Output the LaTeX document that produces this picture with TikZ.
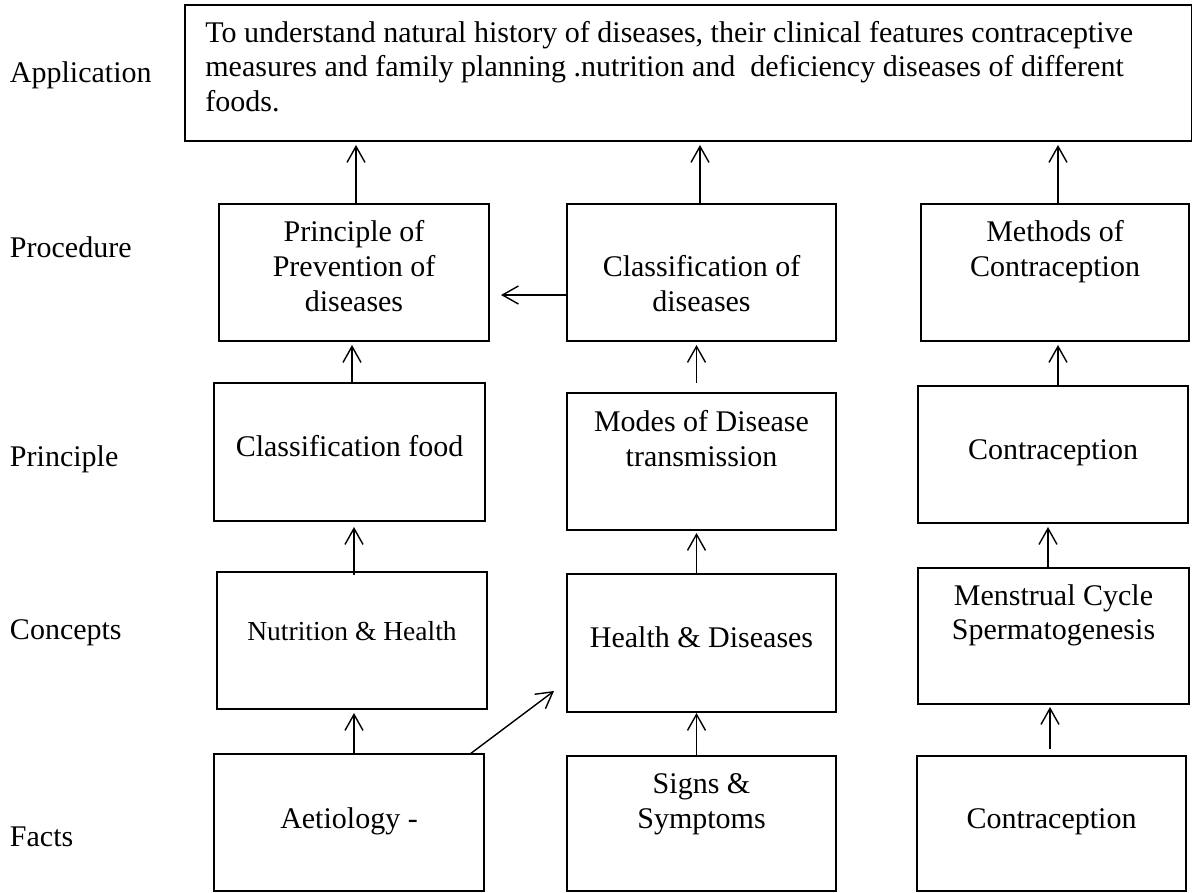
\documentclass[tikz,border=0pt]{standalone}
\usepackage{fontspec}
\setmainfont{Liberation Serif}
\usetikzlibrary{arrows.meta,fit}
\begin{document}
\begin{tikzpicture}[x=0.5pt,y=-0.5pt,
  box/.style={draw, line width=0.9pt, inner sep=0pt, outer sep=0pt},
  txt/.style={inner sep=0pt, anchor=base, font=\fontsize{15}{17.25}\selectfont},
  lbl/.style={txt, anchor=base west},
  smalltxt/.style={txt, font=\fontsize{13.75}{15.8}\selectfont},
  arr/.style={line width=0.7pt, -{Straight Barb[length=8pt,width=9pt]}}]
\useasboundingbox (0,0) rectangle (1193,893);

% level labels
\node[lbl] (l-app)  at (9.6,83)  {Application};
\node[lbl] (l-proc) at (9.6,257) {Procedure};
\node[lbl] (l-prin) at (9.6,466) {Principle};
\node[lbl] (l-conc) at (9.6,639) {Concepts};
\node[lbl] (l-fact) at (9.6,846) {Facts};

% application box
\node[box, fit={(185,5) (1191.5,141)}] (app) {};
\node[lbl] (app-a) at (205,42.7) {To understand natural history of diseases, their clinical features contraceptive};
\node[lbl] (app-b) at (205,77) {measures and family planning .nutrition and~ deficiency diseases of different};
\node[lbl] (app-c) at (205,112) {foods.};

% column 1
\node[box, fit={(219,204) (489,341)}] (proc1) {};
\node[box, fit={(214,383) (485,521)}] (prin1) {};
\node[box, fit={(217,572) (487,709)}] (conc1) {};
\node[box, fit={(214,754) (484,891)}] (fact1) {};
\node[txt] (proc1-a) at (354,242)   {Principle of};
\node[txt] (proc1-b) at (354,276.5) {Prevention of};
\node[txt] (proc1-c) at (354,311)   {diseases};
\node[txt] (prin1-a) at (349.5,456) {Classification food};
\node[smalltxt] (conc1-a) at (352,640) {Nutrition \& Health};
\node[txt] (fact1-a) at (349,828) {Aetiology -};

% column 2
\node[box, fit={(567,204) (836,341)}] (proc2) {};
\node[box, fit={(567,393) (836,530)}] (prin2) {};
\node[box, fit={(567,574) (836,712)}] (conc2) {};
\node[box, fit={(567,756) (836,891)}] (fact2) {};
\node[txt] (proc2-a) at (701.5,276.5) {Classification of};
\node[txt] (proc2-b) at (701.5,311)   {diseases};
\node[txt] (prin2-a) at (701.5,431)   {Modes of Disease};
\node[txt] (prin2-b) at (701.5,466)   {transmission};
\node[txt] (conc2-a) at (701.5,647.5) {Health \& Diseases};
\node[txt] (fact2-a) at (701.5,793)   {Signs \&};
\node[txt] (fact2-b) at (701.5,828)   {Symptoms};

% column 3
\node[box, fit={(921,204) (1189,341)}] (proc3) {};
\node[box, fit={(918,386) (1188,523)}] (prin3) {};
\node[box, fit={(918,568) (1189,704)}] (conc3) {};
\node[box, fit={(917,756) (1186,891)}] (fact3) {};
\node[txt] (proc3-a) at (1055,242)   {Methods of};
\node[txt] (proc3-b) at (1055,276.5) {Contraception};
\node[txt] (prin3-a) at (1053,459)   {Contraception};
\node[txt] (conc3-a) at (1053.5,605) {Menstrual Cycle};
\node[txt] (conc3-b) at (1053.5,639) {Spermatogenesis};
\node[txt] (fact3-a) at (1051.5,828) {Contraception};

% column 1 arrows
\draw[arr, shorten >=2pt] ([xshift=1pt]proc1.north) -- ([xshift=1pt]proc1.north |- app.south);
\draw[arr, shorten >=2pt] ([xshift=1.25pt]prin1.north) -- ([xshift=1.25pt]prin1.north |- proc1.south);
\draw[arr, shorten <=-1.5pt, shorten >=3pt] ([xshift=1pt]conc1.north) -- ([xshift=1pt]conc1.north |- prin1.south);
\draw[arr, shorten >=2pt] ([xshift=2.5pt]fact1.north) -- ([xshift=2.5pt]fact1.north |- conc1.south);

% column 2 arrows
\draw[arr, shorten >=2pt] ([xshift=-0.75pt]proc2.north) -- ([xshift=-0.75pt]proc2.north |- app.south);
\draw[arr, shorten <=5pt, shorten >=2pt] ([xshift=-2.5pt]prin2.north) -- ([xshift=-2.5pt]prin2.north |- proc2.south);
\draw[arr, shorten >=1.5pt] ([xshift=-2.5pt]conc2.north) -- ([xshift=-2.5pt]conc2.north |- prin2.south);
\draw[arr, shorten >=0.5pt] ([xshift=-2.5pt]fact2.north) -- ([xshift=-2.5pt]fact2.north |- conc2.south);

% column 3 arrows
\draw[arr, shorten >=2pt] ([xshift=1.5pt]proc3.north) -- ([xshift=1.5pt]proc3.north |- app.south);
\draw[arr, shorten >=2pt] ([xshift=2.5pt]prin3.north) -- ([xshift=2.5pt]prin3.north |- proc3.south);
\draw[arr, shorten >=2pt] ([xshift=-2.75pt]conc3.north) -- ([xshift=-2.75pt]conc3.north |- prin3.south);
\draw[arr, shorten <=3.5pt, shorten >=1.5pt] ([xshift=-0.75pt]fact3.north) -- ([xshift=-0.75pt]fact3.north |- conc3.south);

% cross links
\draw[arr, shorten >=6pt] ([yshift=-11.25pt]proc2.west) -- ([yshift=-11.25pt]proc2.west -| proc1.east);
\draw[arr] ([xshift=-7pt]fact1.north east) -- ([xshift=-6.5pt,yshift=10.5pt]conc2.south west);
\end{tikzpicture}
\end{document}
